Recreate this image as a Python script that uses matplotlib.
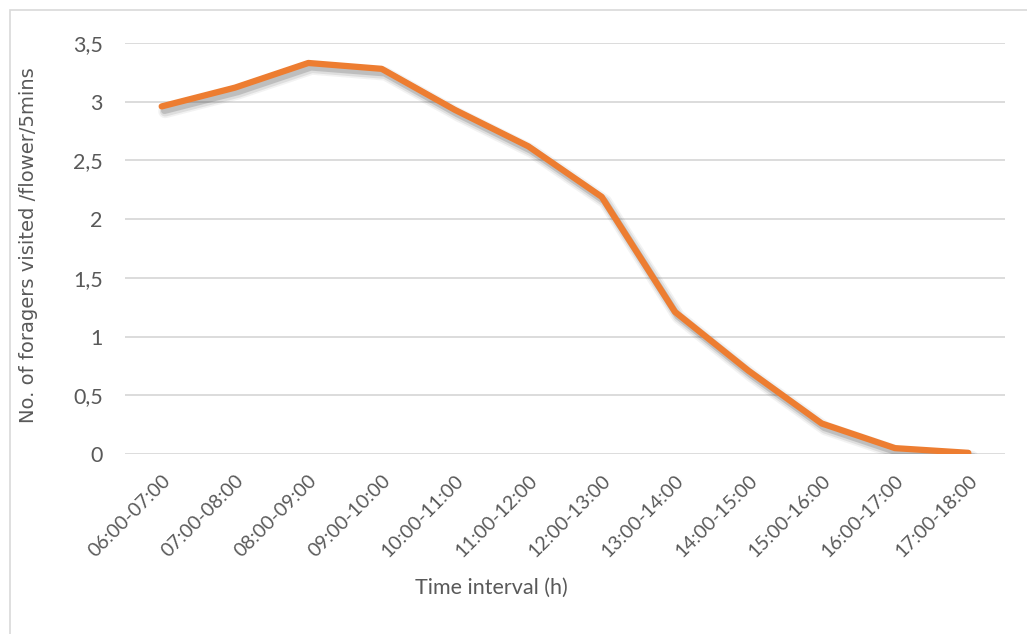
import matplotlib
matplotlib.use('Agg')
import matplotlib.pyplot as plt
import matplotlib.patheffects as pe
from matplotlib.patches import Rectangle

# Data
intervals = ['06:00-07:00', '07:00-08:00', '08:00-09:00', '09:00-10:00',
             '10:00-11:00', '11:00-12:00', '12:00-13:00', '13:00-14:00',
             '14:00-15:00', '15:00-16:00', '16:00-17:00', '17:00-18:00']
foragers = [2.96, 3.12, 3.33, 3.28, 2.93, 2.62, 2.19, 1.21, 0.71, 0.26, 0.05, 0.01]
y_ticks = [0, 0.5, 1, 1.5, 2, 2.5, 3, 3.5]
y_tick_labels = ['0', '0,5', '1', '1,5', '2', '2,5', '3', '3,5']

orange = '#ED7D31'
gridGrey = '#D9D9D9'
textGrey = '#595959'

W, H = 1027, 634
fig = plt.figure(figsize=(W / 100, H / 100), dpi=100)
fig.patch.set_facecolor('white')

# chart border
fig.patches.append(Rectangle((10 / W, -0.1), 1.2, 1 - 10 / H + 0.1, transform=fig.transFigure,
                             fill=False, edgecolor=gridGrey, linewidth=1.2))

ax = fig.add_axes([125 / W, 1 - 454 / H, (1005 - 125) / W, (454 - 43) / H])
x = list(range(len(intervals)))

# soft shadow built from a few faint layers
shadow = [pe.SimpleLineShadow(offset=(2.5, -3.5), shadow_color='#303030', alpha=0.06, linewidth=10),
          pe.SimpleLineShadow(offset=(2.5, -3.5), shadow_color='#303030', alpha=0.10, linewidth=7.5),
          pe.SimpleLineShadow(offset=(2, -3), shadow_color='#303030', alpha=0.18, linewidth=5)]
ax.plot(x, foragers, color=orange, linewidth=4.5, solid_capstyle='round', zorder=3,
        path_effects=shadow + [pe.Normal()])

ax.set_xlim(-0.5, len(intervals) - 0.5)
ax.set_ylim(0, 3.5)
ax.set_yticks(y_ticks)
ax.set_yticklabels(y_tick_labels, fontsize=15.5, color=textGrey, family='Lato')
ax.set_xticks(x)
ax.set_xticklabels(intervals, rotation=45, ha='right', rotation_mode='anchor',
                   fontsize=14, color=textGrey, family='Lato')
ax.tick_params(axis='both', length=0)
ax.tick_params(axis='y', pad=16)
ax.tick_params(axis='x', pad=13)

for v in y_ticks[1:]:
    ax.axhline(v, color=gridGrey, linewidth=1.3, zorder=1)
ax.axhline(0, color=gridGrey, linewidth=2, zorder=2)

for s in ax.spines.values():
    s.set_visible(False)

fig.text(29 / W, 1 - 245 / H, 'No. of foragers visited /flower/5mins', fontsize=14,
         color=textGrey, family='DejaVu Sans', rotation=90, ha='center', va='center')
fig.text(491 / W, 1 - 588 / H, 'Time interval (h)', fontsize=15.5, color=textGrey,
         family='Lato', ha='center', va='center')

plt.savefig('out.png', dpi=100, facecolor='white')
